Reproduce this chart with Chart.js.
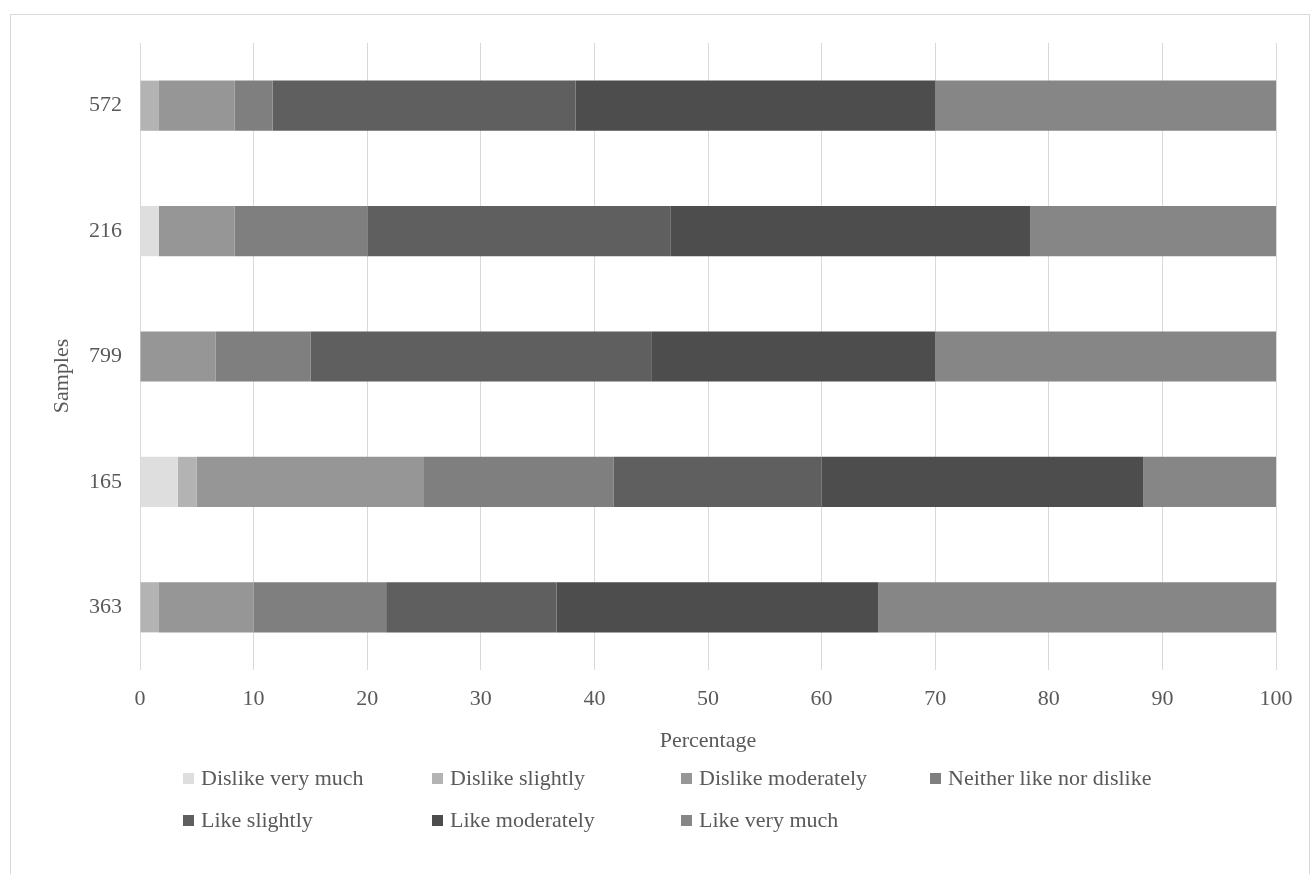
<!DOCTYPE html>
<html>
<head>
<meta charset="utf-8">
<script src="https://cdn.jsdelivr.net/npm/chart.js@4.4.1/dist/chart.umd.min.js"></script>
<style>
  html, body { margin: 0; padding: 0; background: #ffffff; }
  #wrap { position: relative; width: 1311px; height: 874px; overflow: hidden; }
  #frame { position: absolute; left: 10px; top: 14px; width: 1300px; height: 900px; border: 1px solid #d9d9d9; box-sizing: border-box; pointer-events: none; }
  canvas { position: absolute; left: 0; top: 0; }
  .legend-item { position: absolute; display: flex; align-items: center; font-family: "Liberation Serif", "Times New Roman", serif; font-size: 22px; color: #595959; white-space: nowrap; transform: translateY(-50%); }
  .legend-box { width: 11px; height: 11px; margin-right: 7px; }
</style>
</head>
<body>
<div id="wrap">
  <div id="frame"></div>
  <canvas id="chart" width="1311" height="874"></canvas>
  <div id="legend"></div>
</div>
<script>
// Samples, listed top to bottom
const samples = ['572', '216', '799', '165', '363'];

// Share of panelists (%) for each hedonic rating, per sample
const dislikeVeryMuch   = [0,     1.67,  0,     3.33,  0];
const dislikeSlightly   = [1.67,  0,     0,     1.67,  1.67];
const dislikeModerately = [6.67,  6.67,  6.67,  20,    8.33];
const neitherLikeNor    = [3.33,  11.67, 8.33,  16.67, 11.67];
const likeSlightly      = [26.67, 26.67, 30,    18.33, 15];
const likeModerately    = [31.67, 31.67, 25,    28.33, 28.33];
const likeVeryMuch      = [30,    21.67, 30,    11.67, 35];

const ratingLabels = ['Dislike very much', 'Dislike slightly', 'Dislike moderately',
  'Neither like nor dislike', 'Like slightly', 'Like moderately', 'Like very much'];
const ratingValues = [dislikeVeryMuch, dislikeSlightly, dislikeModerately,
  neitherLikeNor, likeSlightly, likeModerately, likeVeryMuch];
const ratingColors = ['#dedede', '#b3b3b3', '#969696', '#7f7f7f', '#5f5f5f', '#4d4d4d', '#868686'];

const xTicks = [0, 10, 20, 30, 40, 50, 60, 70, 80, 90, 100];

const serif = '"Liberation Serif", "Times New Roman", serif';
const textColor = '#595959';
const fontSize = 22;

const datasets = ratingLabels.map((label, i) => ({
  label: label,
  data: ratingValues[i],
  backgroundColor: ratingColors[i],
  borderWidth: 0,
  categoryPercentage: 0.8,
  barPercentage: 0.5
}));

// Vertical axis title, drawn a little below the axis midpoint
const yTitlePlugin = {
  id: 'yTitle',
  afterDraw(chart) {
    const ctx = chart.ctx;
    ctx.save();
    ctx.translate(62, 376);
    ctx.rotate(-Math.PI / 2);
    ctx.font = fontSize + 'px ' + serif;
    ctx.fillStyle = textColor;
    ctx.textAlign = 'center';
    ctx.textBaseline = 'middle';
    ctx.fillText('Samples', 0, 0);
    ctx.restore();
  }
};

const chart = new Chart(document.getElementById('chart'), {
  type: 'bar',
  data: { labels: samples, datasets: datasets },
  plugins: [yTitlePlugin],
  options: {
    indexAxis: 'y',
    responsive: false,
    devicePixelRatio: 1,
    animation: false,
    layout: { padding: { left: 40, top: 43, right: 35, bottom: 120 } },
    plugins: { legend: { display: false }, tooltip: { enabled: false } },
    scales: {
      x: {
        stacked: true,
        min: 0,
        max: 100,
        afterBuildTicks: (scale) => { scale.ticks = xTicks.map(v => ({ value: v })); },
        afterFit: (scale) => { scale.height = 84; },
        grid: { color: '#d9d9d9', lineWidth: 1, drawTicks: false },
        border: { display: false },
        ticks: { color: textColor, font: { family: serif, size: fontSize }, padding: 16, maxRotation: 0 },
        title: { display: true, text: 'Percentage', color: textColor,
                 font: { family: serif, size: fontSize }, padding: { top: 0, bottom: 0 } }
      },
      y: {
        stacked: true,
        afterFit: (scale) => { scale.width = 100; },
        grid: { display: false },
        border: { display: false },
        ticks: { color: textColor, font: { family: serif, size: fontSize }, padding: 10 }
      }
    }
  }
});

// Legend laid out in fixed columns, two rows
const legendEl = document.getElementById('legend');
const colX = [183, 432, 681, 930];
const rowY = [778, 820];
chart.data.datasets.forEach((ds, i) => {
  const item = document.createElement('div');
  item.className = 'legend-item';
  item.style.left = colX[i % 4] + 'px';
  item.style.top = rowY[Math.floor(i / 4)] + 'px';
  const box = document.createElement('span');
  box.className = 'legend-box';
  box.style.background = ds.backgroundColor;
  const txt = document.createElement('span');
  txt.textContent = ds.label;
  item.appendChild(box);
  item.appendChild(txt);
  legendEl.appendChild(item);
});
</script>
</body>
</html>
